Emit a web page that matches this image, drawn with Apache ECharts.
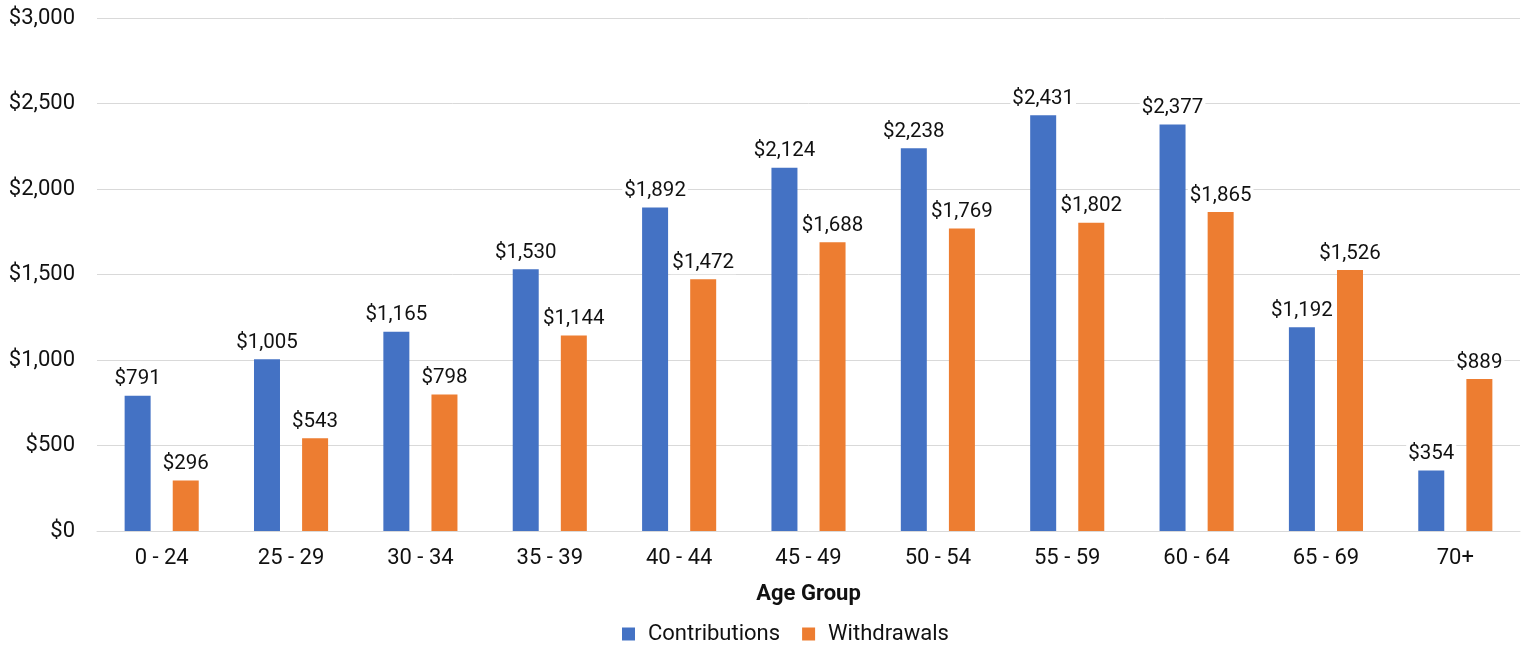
<!DOCTYPE html>
<html>
<head>
<meta charset="utf-8">
<script src="https://cdn.jsdelivr.net/npm/echarts@6/dist/echarts.min.js"></script>
<style>
  html, body { margin: 0; padding: 0; background: #fff; }
  #main { width: 1530px; height: 647px; }
</style>
</head>
<body>
<div id="main"></div>
<script type="text/javascript">
	var ageGroups = ['0 - 24', '25 - 29', '30 - 34', '35 - 39', '40 - 44', '45 - 49', '50 - 54', '55 - 59', '60 - 64', '65 - 69', '70+'];
	var contributions = [791, 1005, 1165, 1530, 1892, 2124, 2238, 2431, 2377, 1192, 354];
	var withdrawals = [296, 543, 798, 1144, 1472, 1688, 1769, 1802, 1865, 1526, 889];

	var fmt = function (v) {
	    return '$' + Number(v).toLocaleString('en-US');
	};

	var chart = echarts.init(document.getElementById('main'));

	// 柱顶数值标签，白底遮住网格线
	var labelStyle = {
	    show: true,
	    position: 'top',
	    distance: 5,
	    color: '#111',
	    fontSize: 20.5,
	    fontFamily: 'Roboto',
	    backgroundColor: '#fff',
	    padding: [1, 2],
	    formatter: function (p) { return fmt(p.value); }
	};

	var option = {
	    animation: false,
	    textStyle: { fontFamily: 'Roboto' },
	    grid: { left: 97, right: 10, top: 18, bottom: 116 },
	    legend: {
	        top: 618,
	        left: 617,
	        itemWidth: 13,
	        itemHeight: 13,
	        itemGap: 22,
	        icon: 'rect',
	        textStyle: { fontSize: 22, color: '#111', fontFamily: 'Roboto', padding: [0, 0, 0, 8] },
	        data: ['Contributions', 'Withdrawals']
	    },
	    xAxis: {
	        type: 'category',
	        data: ageGroups,
	        name: 'Age Group',
	        nameLocation: 'middle',
	        nameGap: 52,
	        nameTextStyle: { fontSize: 22, fontWeight: 'bold', color: '#111', fontFamily: 'Roboto' },
	        axisLine: { lineStyle: { color: '#d9d9d9', width: 1 } },
	        axisTick: { show: false },
	        axisLabel: { fontSize: 22, color: '#111', margin: 16, fontFamily: 'Roboto' }
	    },
	    yAxis: {
	        type: 'value',
	        min: 0,
	        max: 3000,
	        interval: 500,
	        axisLine: { show: false },
	        axisTick: { show: false },
	        splitLine: { lineStyle: { color: '#d9d9d9', width: 1 } },
	        axisLabel: { fontSize: 22, color: '#111', margin: 22, fontFamily: 'Roboto', formatter: fmt }
	    },
	    series: [
	        {
	            name: 'Contributions',
	            type: 'bar',
	            data: contributions,
	            barWidth: 26,
	            barGap: '85%',
	            itemStyle: { color: '#4472c4' },
	            label: labelStyle
	        },
	        {
	            name: 'Withdrawals',
	            type: 'bar',
	            data: withdrawals,
	            barWidth: 26,
	            barGap: '85%',
	            itemStyle: { color: '#ed7d31' },
	            label: labelStyle
	        }
	    ]
	};
	chart.setOption(option);
</script>
</body>
</html>
